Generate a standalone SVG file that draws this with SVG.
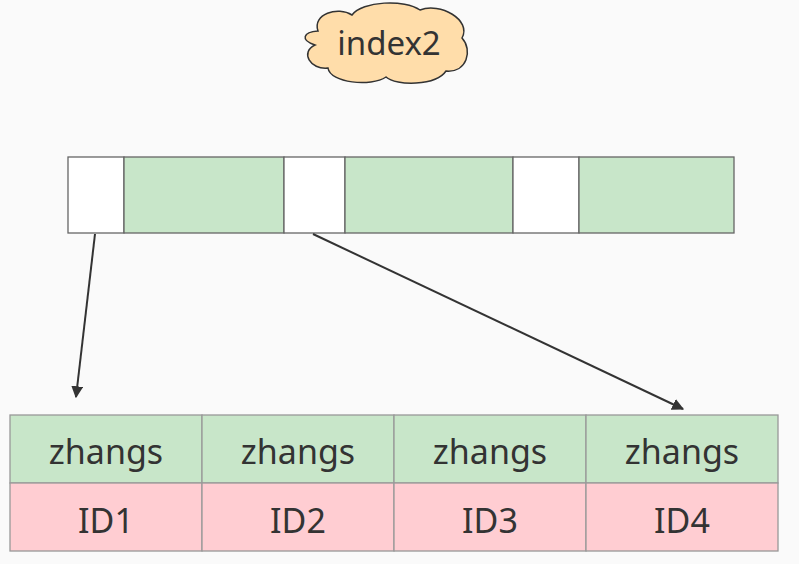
<svg xmlns="http://www.w3.org/2000/svg" width="799" height="564" viewBox="0 0 799 564">
<style>
.t{font-family:"Noto Sans","Open Sans",sans-serif;fill:#333;text-anchor:middle}
.cell{stroke:#666;stroke-width:1.3}
.tc{stroke:#999;stroke-width:1.3}
.g{fill:#c8e6c9}.w{fill:#fff}.p{fill:#ffcdd2}
.conn{stroke:#333;stroke-width:2;fill:none}
</style>
<defs>
<marker id="ah" viewBox="0 0 10 10" refX="9" refY="5" markerWidth="6" markerHeight="6" orient="auto" markerUnits="strokeWidth">
<path d="M0,0 L10,5 L0,10 Z" fill="#333"/>
</marker>
</defs>
<rect width="799" height="564" fill="#fafafa"/>
<g id="index2">
<path d="M318 31 C312 14 338 6 352 15 C362 1 405 -1 420 10 C440 2 472 20 462 38 C473 50 467 73 446 71 C436 86 396 86 386 77 C371 87 330 83 328 68 C310 70 300 52 315 45 C300 40 303 32 318 31 Z" fill="#ffddaa" stroke="#333" stroke-width="1.5"/>
<text class="t" x="389" y="55" font-size="33">index2</text>
</g>
<g id="bar">
<rect class="cell w" x="68" y="157" width="56" height="76"/>
<rect class="cell g" x="124" y="157" width="160" height="76"/>
<rect class="cell w" x="284" y="157" width="61" height="76"/>
<rect class="cell g" x="345" y="157" width="168" height="76"/>
<rect class="cell w" x="513" y="157" width="66" height="76"/>
<rect class="cell g" x="579" y="157" width="155" height="76"/>
</g>
<g id="table">
<rect class="tc g" x="10" y="415" width="192" height="68"/>
<rect class="tc g" x="202" y="415" width="192" height="68"/>
<rect class="tc g" x="394" y="415" width="192" height="68"/>
<rect class="tc g" x="586" y="415" width="192" height="68"/>
<rect class="tc p" x="10" y="483" width="192" height="68"/>
<rect class="tc p" x="202" y="483" width="192" height="68"/>
<rect class="tc p" x="394" y="483" width="192" height="68"/>
<rect class="tc p" x="586" y="483" width="192" height="68"/>
<text class="t" x="106" y="464" font-size="34">zhangs</text>
<text class="t" x="298" y="464" font-size="34">zhangs</text>
<text class="t" x="490" y="464" font-size="34">zhangs</text>
<text class="t" x="682" y="464" font-size="34">zhangs</text>
<text class="t" x="106" y="533" font-size="34">ID1</text>
<text class="t" x="298" y="533" font-size="34">ID2</text>
<text class="t" x="490" y="533" font-size="34">ID3</text>
<text class="t" x="682" y="533" font-size="34">ID4</text>
</g>
<g id="connectors">
<line class="conn" x1="95" y1="234" x2="76" y2="397" marker-end="url(#ah)"/>
<line class="conn" x1="313" y1="234" x2="683" y2="409" marker-end="url(#ah)"/>
</g>
</svg>
